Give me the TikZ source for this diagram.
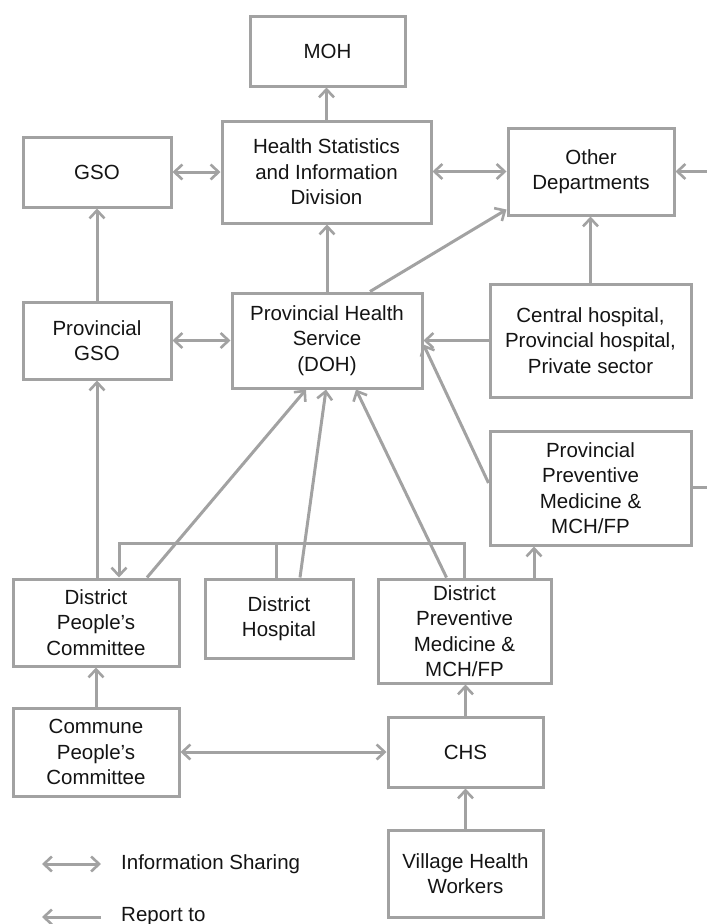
\documentclass[tikz,border=0pt]{standalone}
\usepackage{fontspec}
\setmainfont{Liberation Sans}
\usetikzlibrary{arrows.meta}
\definecolor{lg}{RGB}{162,162,162}
\tikzset{
  box/.style={draw=lg, line width=3pt, inner sep=0pt, align=center, font=\fontsize{20.5}{25.5}\selectfont, text=black!92},
  conn/.style={draw=lg, line width=3pt},
  arr/.style={conn, -{Straight Barb[length=8pt,width=15pt,line width=2.6pt]}},
  dbl/.style={conn, {Straight Barb[length=8pt,width=15pt,line width=2.6pt]}-{Straight Barb[length=8pt,width=15pt,line width=2.6pt]}},
  lab/.style={anchor=west, inner sep=0pt, font=\fontsize{20.5}{25.5}\selectfont, text=black!92}
}
\begin{document}
\begin{tikzpicture}[x=1pt,y=-1pt]
\useasboundingbox (0,0) rectangle (707,924);
\node[box, minimum width=155pt, minimum height=70pt] (MOH) at (327.5,51) {MOH};
\node[box, minimum width=209pt, minimum height=102pt] (HSID) at (326.5,172) {Health Statistics\\and Information\\Division};
\node[box, minimum width=148pt, minimum height=70pt] (GSO) at (97,172) {GSO};
\node[box, minimum width=166pt, minimum height=87pt] (OD) at (591,171.5) {Other\\Departments};
\node[box, minimum width=148pt, minimum height=77pt] (PGSO) at (97,340.5) {Provincial\\GSO};
\node[box, minimum width=190pt, minimum height=95pt] (PHS) at (327,340.5) {Provincial Health\\Service\\(DOH)};
\node[box, minimum width=201pt, minimum height=113pt] (CH) at (590.5,340.5) {Central hospital,\\Provincial hospital,\\Private sector};
\node[box, minimum width=201pt, minimum height=114pt] (PPM) at (590.5,488) {Provincial\\Preventive\\Medicine \&\\MCH/FP};
\node[box, minimum width=166pt, minimum height=87pt] (DPC) at (96,622.5) {District\\People’s\\Committee};
\node[box, minimum width=148pt, minimum height=79pt] (DH) at (279,618.5) {District\\Hospital};
\node[box, minimum width=173pt, minimum height=104pt] (DPM) at (464.5,631) {District\\Preventive\\Medicine \&\\MCH/FP};
\node[box, minimum width=166pt, minimum height=88pt] (CPC) at (96,752) {Commune\\People’s\\Committee};
\node[box, minimum width=155pt, minimum height=70pt] (CHS) at (465.5,752) {CHS};
\node[box, minimum width=155pt, minimum height=87pt] (VHW) at (465.5,873.5) {Village Health\\Workers};
\coordinate (rt) at (708,0);
% connectors
\draw[arr] (HSID.north) -- (HSID.north |- MOH.south);
\draw[dbl] (GSO.east) -- (GSO.east -| HSID.west);
\draw[dbl] (HSID.east |- OD.west) -- (OD.west);
\draw[arr] (OD.east -| rt) -- (OD.east);
\draw[arr] (PHS.north) -- (PHS.north |- HSID.south);
\draw[arr] ([xshift=43pt]PHS.north) -- ([yshift=7pt]OD.south west);
\draw[arr] (CH.north) -- (CH.north |- OD.south);
\draw[arr] (CH.west) -- (CH.west -| PHS.east);
\draw[arr] ([yshift=5pt]PPM.west) -- ([yshift=-4pt]PHS.east);
\draw[conn] ([yshift=1pt]PPM.east) -- ([yshift=1pt]PPM.east -| rt);
\draw[arr] (PGSO.north) -- (PGSO.north |- GSO.south);
\draw[dbl] (PGSO.east) -- (PGSO.east -| PHS.west);
\draw[arr] (PGSO.south |- DPC.north) -- (PGSO.south);
\draw[arr] ([xshift=51pt]DPC.north) -- ([xshift=-21pt]PHS.south);
\draw[arr] ([xshift=21pt]DH.north) -- ([xshift=-1pt]PHS.south);
\draw[arr] ([xshift=-18pt]DPM.north) -- ([xshift=29pt]PHS.south);
\draw[arr] ([xshift=69.5pt]DPM.north) -- ([xshift=69.5pt]DPM.north |- PPM.south);
\draw[arr] (DPM.north) -- ++(0,-34) -| ([xshift=23pt]DPC.north);
\draw[conn] ([xshift=-3pt]DH.north) -- ++(0,-34);
\draw[arr] (CPC.north) -- (DPC.south);
\draw[dbl] (CPC.east) -- (CHS.west);
\draw[arr] (CHS.north) -- (CHS.north |- DPM.south);
\draw[arr] (VHW.north) -- (CHS.south);
% legend
\coordinate (l1a) at (42,864);
\coordinate (l1b) at (101,864);
\coordinate (l2a) at (101,917);
\coordinate (l2b) at (42,917);
\draw[dbl] (l1a) -- (l1b);
\draw[arr] (l2a) -- (l2b);
\node[lab] (t1) at (121,864) {Information Sharing};
\node[lab] (t2) at (121,917) {Report to};
\end{tikzpicture}
\end{document}
